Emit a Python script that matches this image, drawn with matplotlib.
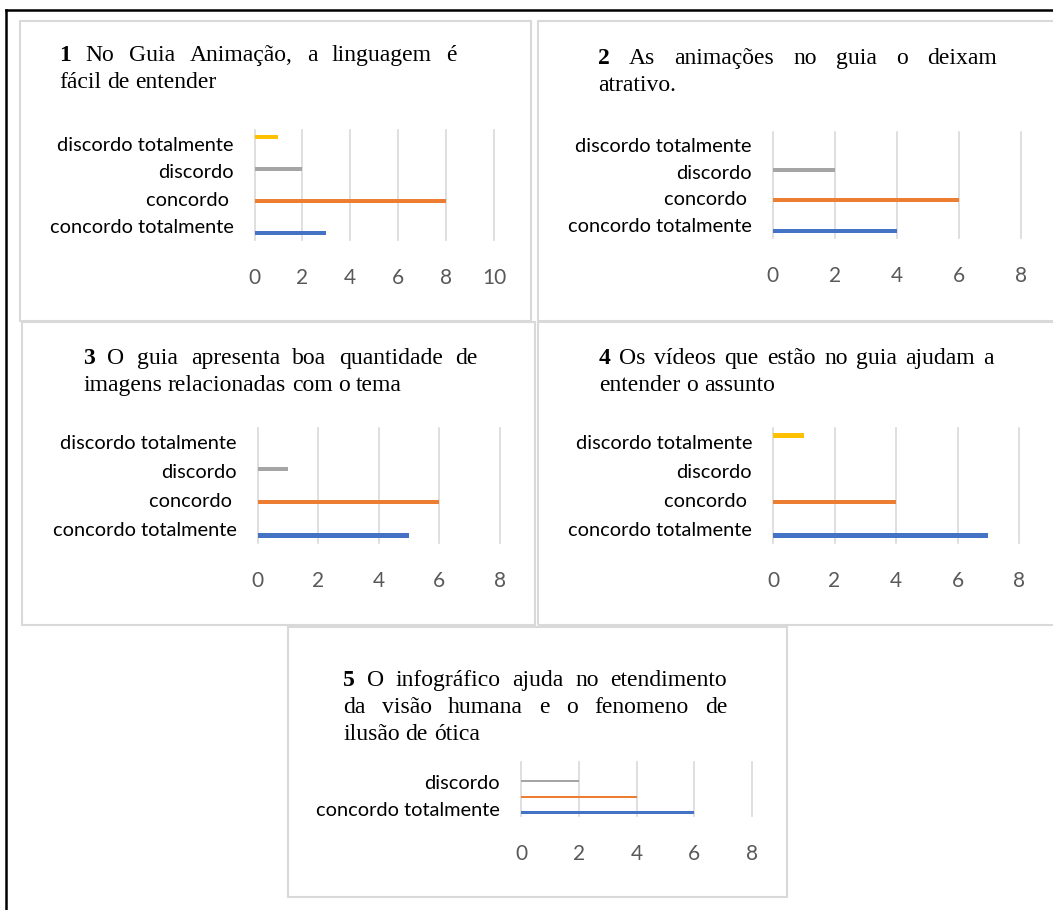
import matplotlib

matplotlib.use("Agg")
import matplotlib.pyplot as plt  # noqa: E402
from matplotlib.lines import Line2D  # noqa: E402
from matplotlib.patches import Rectangle  # noqa: E402

W, H = 1053, 910

# answer scale, bottom to top
categories = ["concordo totalmente", "concordo ", "discordo", "discordo totalmente"]
colors = ["#4472C4", "#ED7D31", "#A5A5A5", "#FFC000"]

q1 = [3, 8, 2, 1]
q2 = [4, 6, 2, 0]
q3 = [5, 6, 1, 0]
q4 = [7, 4, 0, 1]
q5 = [6, 4, 2, 0]

x_ticks_10 = [0, 2, 4, 6, 8, 10]
x_ticks_8 = [0, 2, 4, 6, 8]

titles = [
    ("1", ["No Guia Animação, a linguagem é", "fácil de entender"]),
    ("2", ["As animações no guia o deixam", "atrativo."]),
    ("3", ["O guia apresenta boa quantidade de", "imagens relacionadas com o tema"]),
    ("4", ["Os vídeos que estão no guia ajudam a", "entender o assunto"]),
    ("5", ["O infográfico ajuda no etendimento",
           "da visão humana e o fenomeno de", "ilusão de ótica"]),
]

# pixel layout: box (l, t, r, b), plot area (l, t, r, b), title (x0, x1, baseline)
panels = [
    dict(vals=q1, ticks=x_ticks_10, label_step=1,
         box=(20, 21, 531, 321), plot=(254.5, 130, 494, 240), title=(59, 457, 61)),
    dict(vals=q2, ticks=x_ticks_8, label_step=1,
         box=(538, 21, 1070, 321), plot=(772.5, 132, 1021, 238), title=(598, 997, 64)),
    dict(vals=q3, ticks=x_ticks_8, label_step=1,
         box=(22, 322, 535, 625), plot=(257.5, 428, 500, 543), title=(83, 478, 364)),
    dict(vals=q4, ticks=x_ticks_8, label_step=1,
         box=(538, 322, 1070, 625), plot=(773, 428, 1019, 543), title=(599, 994, 364)),
    dict(vals=q5, ticks=x_ticks_8, label_step=2,
         box=(288, 627, 787, 897), plot=(521, 762, 752, 816), title=(343, 727, 686)),
]

BAR_W = 0.16
TITLE_FONT = "Liberation Serif"
LABEL_FONT = "Lato"


def fx(x):
    return x / W


def fy(y):
    return 1 - y / H


def draw_title(fig, num, lines, x0, x1, y0, lead=27, size=17):
    """Justified title lines, last one left aligned, bold question number."""
    r = fig.canvas.get_renderer()
    for k, line in enumerate(lines):
        items = [(num, "bold")] if k == 0 else []
        items += [(w, "normal") for w in line.split()]
        texts = [fig.text(0, fy(y0 + k * lead), s, fontsize=size, fontweight=wt,
                          family=TITLE_FONT, color="black", va="baseline")
                 for s, wt in items]
        widths = [t.get_window_extent(r).width for t in texts]
        if k < len(lines) - 1 and len(texts) > 1:
            gap = (x1 - x0 - sum(widths)) / (len(texts) - 1)
        else:
            gap = 0.25 * size * 100 / 72
        x = x0
        for t, w in zip(texts, widths):
            t.set_x(fx(x))
            x += w + gap


fig = plt.figure(figsize=(W / 100, H / 100), dpi=100)

# outer frame (top and left edges)
fig.add_artist(Line2D([fx(6), fx(W + 5)], [fy(10), fy(10)], color="black", lw=1.8))
fig.add_artist(Line2D([fx(6), fx(6)], [fy(10), fy(H + 5)], color="black", lw=1.8))

for p, (num, lines) in zip(panels, titles):
    bl, bt, br, bb = p["box"]
    fig.add_artist(Rectangle((fx(bl), fy(bb)), (br - bl) / W, (bb - bt) / H,
                             transform=fig.transFigure, fill=False,
                             edgecolor="#d9d9d9", lw=1.5))
    draw_title(fig, num, lines, *p["title"])

    l, t, r, b = p["plot"]
    ax = fig.add_axes([fx(l), fy(b), (r - l) / W, (b - t) / H])
    n = len(categories)
    for i, (v, c) in enumerate(zip(p["vals"], colors)):
        ax.barh(i + (i - (n - 1) / 2) * BAR_W, v, height=BAR_W, color=c, zorder=3)
    ax.set_xlim(p["ticks"][0], p["ticks"][-1])
    ax.set_ylim(-0.5, n - 0.5)
    ax.set_xticks(p["ticks"])
    ax.set_xticklabels([str(v) for v in p["ticks"]], family=LABEL_FONT,
                       fontsize=15, color="#595959")
    step = p["label_step"]
    ax.set_yticks(range(0, n, step))
    ax.set_yticklabels(categories[::step], family=LABEL_FONT, fontsize=14.4,
                       color="black")
    ax.tick_params(axis="x", length=0, pad=20)
    ax.tick_params(axis="y", length=0, pad=15)
    for s in ax.spines.values():
        s.set_visible(False)
    ax.grid(axis="x", color="#d9d9d9", lw=1.2)
    for gl in ax.get_xgridlines():
        gl.set_clip_on(False)
    ax.set_axisbelow(True)
    ax.patch.set_alpha(0)

fig.savefig("out.png", dpi=100)
